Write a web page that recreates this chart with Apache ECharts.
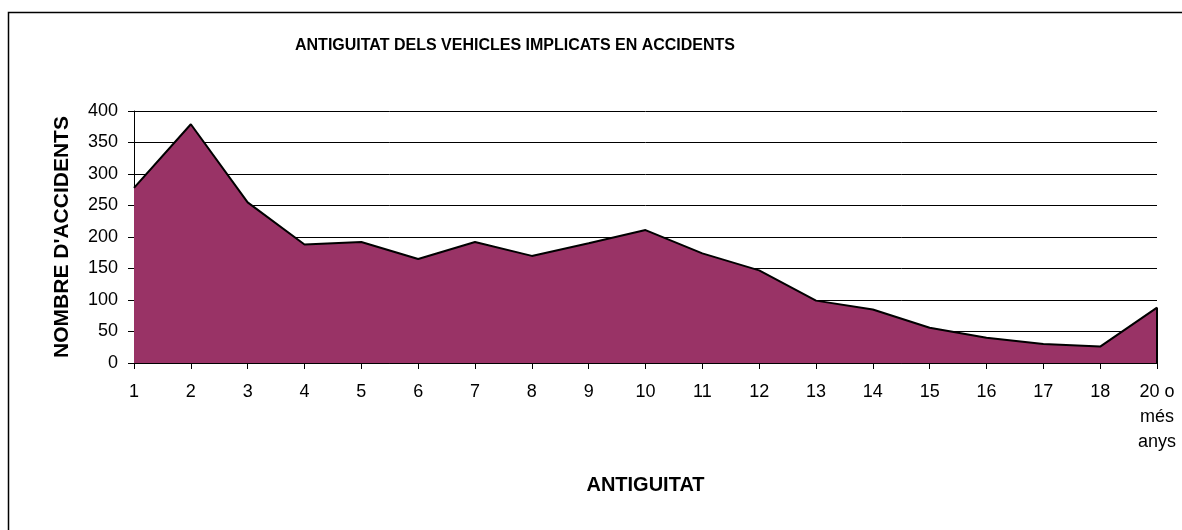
<!DOCTYPE html>
<html>
<head>
<meta charset="utf-8">
<script src="https://cdn.jsdelivr.net/npm/echarts@6/dist/echarts.min.js"></script>
<style>
  html, body { margin: 0; padding: 0; background: #fff; }
  #chart { width: 1182px; height: 530px; }
</style>
</head>
<body>
<div id="chart"></div>
<script>
// data
const categories = ['1', '2', '3', '4', '5', '6', '7', '8', '9', '10',
  '11', '12', '13', '14', '15', '16', '17', '18', '20 o\nmés\nanys'];
const accidents = [278, 379, 255, 188, 192, 165, 192, 170, 190, 211,
  174, 147, 99, 85, 56, 40, 30, 26, 88];
const yTicks = { min: 0, max: 400, interval: 50 };

const font = '"Liberation Sans", Arial, sans-serif';
const lastCat = categories[categories.length - 1];
const lastVal = accidents[accidents.length - 1];

const chart = echarts.init(document.getElementById('chart'));
chart.setOption({
  animation: false,
  backgroundColor: '#fff',
  textStyle: { fontFamily: font },
  title: {
    text: 'ANTIGUITAT DELS VEHICLES IMPLICATS EN ACCIDENTS',
    left: 510,
    textAlign: 'center',
    top: 33,
    textStyle: { fontFamily: font, fontSize: 16, fontWeight: 'bold', color: '#000' }
  },
  graphic: [{
    type: 'rect',
    shape: { x: 8.5, y: 12.5, width: 1200, height: 600 },
    style: { fill: null, stroke: '#000', lineWidth: 1.5 },
    silent: true
  }],
  grid: { left: 134, right: 25, top: 111, bottom: 167 },
  xAxis: {
    type: 'category',
    data: categories,
    boundaryGap: false,
    name: 'ANTIGUITAT',
    nameLocation: 'middle',
    nameGap: 112,
    nameTextStyle: { fontFamily: font, fontSize: 20, fontWeight: 'bold', color: '#000' },
    axisLine: { lineStyle: { color: '#000', width: 1 } },
    axisTick: { alignWithLabel: true, length: 6, lineStyle: { color: '#000' } },
    axisLabel: {
      interval: 0, fontFamily: font, fontSize: 18, color: '#000',
      lineHeight: 25, margin: 17, verticalAlign: 'top'
    },
    splitLine: { show: false }
  },
  yAxis: {
    type: 'value',
    min: yTicks.min,
    max: yTicks.max,
    interval: yTicks.interval,
    name: "NOMBRE D'ACCIDENTS",
    nameLocation: 'middle',
    nameGap: 61,
    nameTextStyle: { fontFamily: font, fontSize: 21, fontWeight: 'bold', color: '#000' },
    axisLine: { show: true, lineStyle: { color: '#000', width: 1 } },
    axisTick: { show: true, length: 6, lineStyle: { color: '#000' } },
    axisLabel: { fontFamily: font, fontSize: 18, color: '#000', margin: 16 },
    splitLine: { show: true, lineStyle: { color: '#000', width: 1 } }
  },
  series: [{
    type: 'line',
    data: accidents,
    symbol: 'none',
    lineStyle: { color: '#000', width: 2 },
    areaStyle: { color: '#993366', opacity: 1 },
    markLine: {
      silent: true,
      symbol: 'none',
      label: { show: false },
      lineStyle: { color: '#000', width: 2, type: 'solid' },
      data: [[{ coord: [lastCat, 0] }, { coord: [lastCat, lastVal] }]]
    },
    z: 3
  }]
});
</script>
</body>
</html>
